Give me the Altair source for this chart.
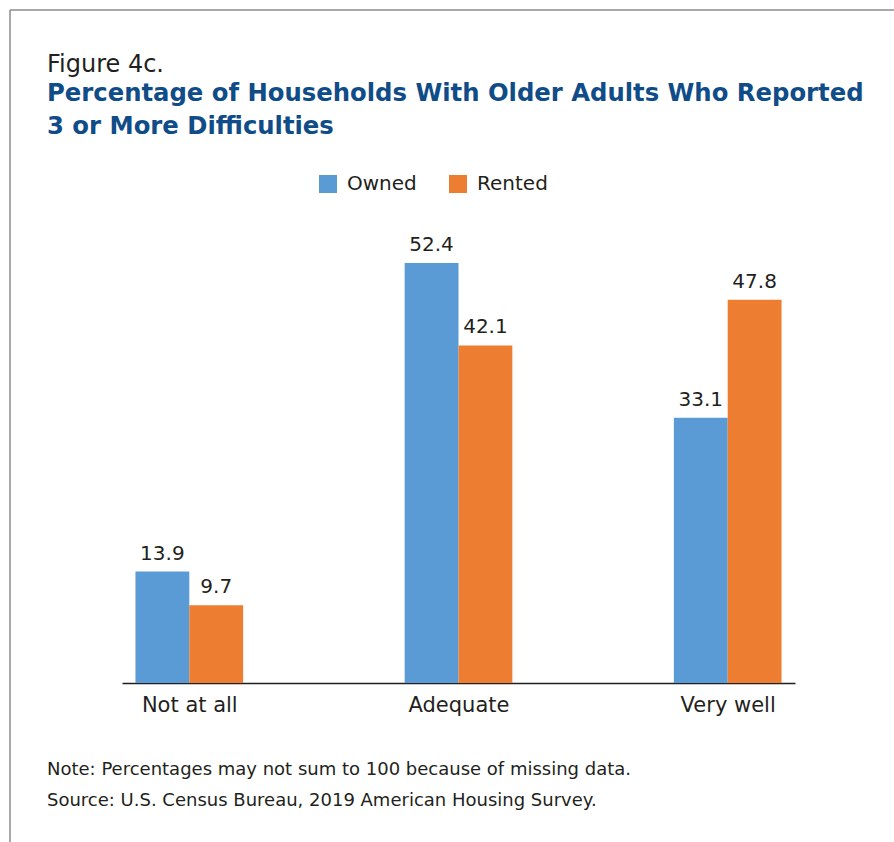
import json
import altair as alt
import pandas as pd

# ---------------- data ----------------
categories = ["Not at all", "Adequate", "Very well"]
series = ["Owned", "Rented"]
owned = [13.9, 52.4, 33.1]
rented = [9.7, 42.1, 47.8]
colors = ["#5b9bd5", "#ed7d31"]

title_text = "Figure 4c."
subtitle_lines = [
    "Percentage of Households With Older Adults Who Reported",
    "3 or More Difficulties",
]
notes = [
    "Note: Percentages may not sum to 100 because of missing data.",
    "Source: U.S. Census Bureau, 2019 American Housing Survey.",
]

# ---------------- table ----------------
BAR = 0.2  # bar width in category units
rows = []
for i, cat in enumerate(categories):
    for j, (name, vals) in enumerate(zip(series, [owned, rented])):
        start = i - BAR + j * BAR
        rows.append({
            "category": cat,
            "tenure": name,
            "value": vals[i],
            "x0": start,
            "x1": start + BAR,
            "xm": start + BAR / 2,
            "label": f"{vals[i]:.1f}",
        })
df = pd.DataFrame(rows)

FONT = "DejaVu Sans"
TEXT = "#231f20"
BLUE_T = "#0f4c88"
W, H = 673, 481
PAD_L, PAD_T = 122, 202
X_TXT = -75  # left edge of the text block relative to the plot

label_expr = json.dumps(categories) + "[datum.value]"

xscale = alt.Scale(domain=[-0.25, len(categories) - 0.75], nice=False, zero=False)
yscale = alt.Scale(domain=[0, 60], nice=False)

bars = alt.Chart(df).mark_bar(stroke=None).encode(
    x=alt.X("x0:Q", scale=xscale, title=None,
            axis=alt.Axis(values=list(range(len(categories))), labelExpr=label_expr,
                          grid=False, ticks=False, domain=True, domainColor=TEXT,
                          domainWidth=1.5, labelFont=FONT, labelFontSize=21,
                          labelColor=TEXT, labelPadding=11, labelFlush=False)),
    x2="x1:Q",
    y=alt.Y("value:Q", scale=yscale, axis=None),
    y2=alt.datum(0),
    color=alt.Color("tenure:N", sort=series,
                    scale=alt.Scale(domain=series, range=colors),
                    legend=alt.Legend(title=None, orient="none", direction="horizontal",
                                      legendX=196, legendY=-28, symbolType="square",
                                      symbolSize=324, symbolStrokeWidth=0,
                                      labelFont=FONT, labelFontSize=20, labelColor=TEXT,
                                      labelOffset=9, columnPadding=31, padding=0)),
)

labels = alt.Chart(df).mark_text(baseline="bottom", dy=-8, font=FONT, fontSize=20,
                                 color=TEXT).encode(
    x=alt.X("xm:Q", scale=xscale),
    y=alt.Y("value:Q", scale=yscale),
    text="label:N",
)


def text_layer(txt, y, size, color=TEXT, weight="normal", baseline="alphabetic"):
    return alt.Chart(pd.DataFrame({"t": [txt]})).mark_text(
        align="left", baseline=baseline, font=FONT, fontSize=size, color=color,
        fontWeight=weight,
    ).encode(x=alt.value(X_TXT), y=alt.value(y), text="t:N")


title_layers = [text_layer(title_text, -130, 24)]
for k, line in enumerate(subtitle_lines):
    title_layers.append(text_layer(line, -101 + 33 * k, 24.3, BLUE_T, "bold"))

note_layers = [text_layer(n, 568 + 31 * k, 18, baseline="middle") for k, n in enumerate(notes)]

border_top = alt.Chart(pd.DataFrame({"a": [0]})).mark_rule(color="#8c8c8c", strokeWidth=1.5).encode(
    x=alt.value(-112), x2=alt.value(894 - PAD_L), y=alt.value(-192)
)
border_left = alt.Chart(pd.DataFrame({"a": [0]})).mark_rule(color="#8c8c8c", strokeWidth=1.5).encode(
    x=alt.value(-112), y=alt.value(-192), y2=alt.value(842 - PAD_T)
)

chart = alt.layer(bars, labels, *title_layers, *note_layers, border_top, border_left).properties(
    width=W,
    height=H,
    background="white",
    autosize=alt.AutoSizeParams(type="none"),
    padding={"left": PAD_L, "top": PAD_T, "right": 894 - PAD_L - W, "bottom": 842 - PAD_T - H},
).configure_view(strokeWidth=0, stroke=None)

chart.save("out.html", embed_options={"renderer": "svg", "actions": False})
